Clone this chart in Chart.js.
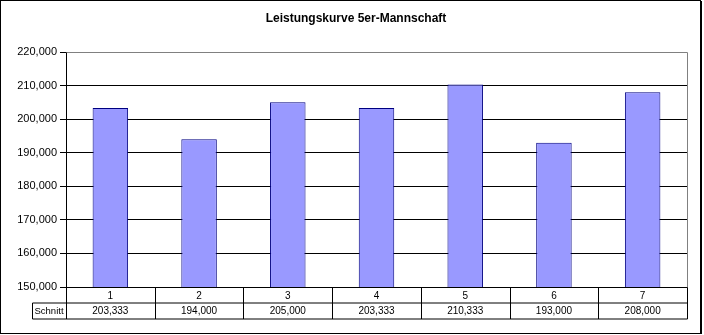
<!DOCTYPE html>
<html>
<head>
<meta charset="utf-8">
<script src="https://cdn.jsdelivr.net/npm/chart.js@4.4.0/dist/chart.umd.min.js"></script>
<style>
  html, body { margin: 0; padding: 0; background: #fff; }
  canvas { display: block; }
</style>
</head>
<body>
<canvas id="chart" width="704" height="335"></canvas>
<script>
const title = "Leistungskurve 5er-Mannschaft";
const categories = ["1", "2", "3", "4", "5", "6", "7"];
const seriesName = "Schnitt";
const schnitt = [203.333, 194.000, 205.000, 203.333, 210.333, 193.000, 208.000];
const yMin = 150;
const yMax = 220;
const yStep = 10;

const FONT = "'Liberation Sans', Arial, sans-serif";

// german number style: 203,333
function fmt(v) {
    return Number(v).toFixed(3).replace(".", ",");
}

// title, frame, plot border and the data table under the x axis
const tablePlugin = {
    id: "dataTable",
    afterDraw(chart) {
        const ctx = chart.ctx;
        const area = chart.chartArea;
        const x = chart.scales.x;
        const rowH = 15.5;
        const top = Math.round(area.bottom) + 0.5;
        const mid = top + rowH;
        const bottom = mid + 16;
        const labelLeft = 32.5;
        const left = Math.round(area.left) + 0.5;
        const right = Math.round(area.right) + 0.5;

        ctx.save();
        ctx.fillStyle = "#000";
        ctx.font = "bold 12px " + FONT;
        ctx.textAlign = "center";
        ctx.textBaseline = "middle";
        ctx.fillText(title, 356, 19);

        // plot border top/right
        ctx.strokeStyle = "#808080";
        ctx.lineWidth = 1;
        ctx.beginPath();
        ctx.moveTo(left, Math.round(area.top) + 0.5);
        ctx.lineTo(right, Math.round(area.top) + 0.5);
        ctx.lineTo(right, top);
        ctx.stroke();

        // table grid
        ctx.strokeStyle = "#000";
        ctx.beginPath();
        ctx.moveTo(left, top);
        ctx.lineTo(right, top);
        ctx.moveTo(labelLeft, mid);
        ctx.lineTo(right, mid);
        ctx.moveTo(labelLeft, bottom);
        ctx.lineTo(right, bottom);
        ctx.moveTo(labelLeft, mid);
        ctx.lineTo(labelLeft, bottom);
        const step = (area.right - area.left) / categories.length;
        for (let i = 0; i <= categories.length; i++) {
            const bx = Math.round(x.getPixelForValue(i) - step / 2) + 0.5;
            ctx.moveTo(bx, top);
            ctx.lineTo(bx, bottom);
        }
        ctx.stroke();

        ctx.font = "10px " + FONT;
        categories.forEach((c, i) => {
            const cx = x.getPixelForValue(i);
            ctx.fillText(c, cx, top + rowH / 2 + 0.5);
            ctx.fillText(fmt(schnitt[i]), cx, mid + 8.5);
        });
        ctx.textAlign = "left";
        ctx.font = "9.5px " + FONT;
        ctx.fillText(seriesName, labelLeft + 2, mid + 8.5);

        // outer frame
        ctx.lineWidth = 1;
        ctx.strokeRect(0.5, 0.5, 700, 333);
        ctx.beginPath();
        ctx.moveTo(701.5, 1);
        ctx.lineTo(701.5, 334);
        ctx.stroke();
        ctx.restore();
    }
};

new Chart(document.getElementById("chart"), {
    type: "bar",
    data: {
        labels: categories,
        datasets: [{
            label: seriesName,
            data: schnitt,
            backgroundColor: "#9999FF",
            borderColor: "#000080",
            borderWidth: 1,
            barPercentage: 0.4,
            categoryPercentage: 1.0
        }]
    },
    options: {
        responsive: false,
        animation: false,
        layout: {
            padding: { left: 0, right: 17, top: 52, bottom: 48 }
        },
        plugins: {
            legend: { display: false },
            tooltip: { enabled: false },
            title: { display: false }
        },
        scales: {
            x: {
                display: false
            },
            y: {
                min: yMin,
                max: yMax,
                afterFit(scale) {
                    scale.width = 66;
                },
                ticks: {
                    stepSize: yStep,
                    color: "#000",
                    padding: 3,
                    font: { family: FONT, size: 11 },
                    callback: (v) => fmt(v)
                },
                grid: {
                    color: (c) => c.tick && c.tick.value === yMax ? "#808080" : "#000",
                    tickColor: "#000",
                    tickLength: 6,
                    lineWidth: 1
                },
                border: { color: "#000", width: 1 }
            }
        }
    },
    plugins: [tablePlugin]
});
</script>
</body>
</html>
